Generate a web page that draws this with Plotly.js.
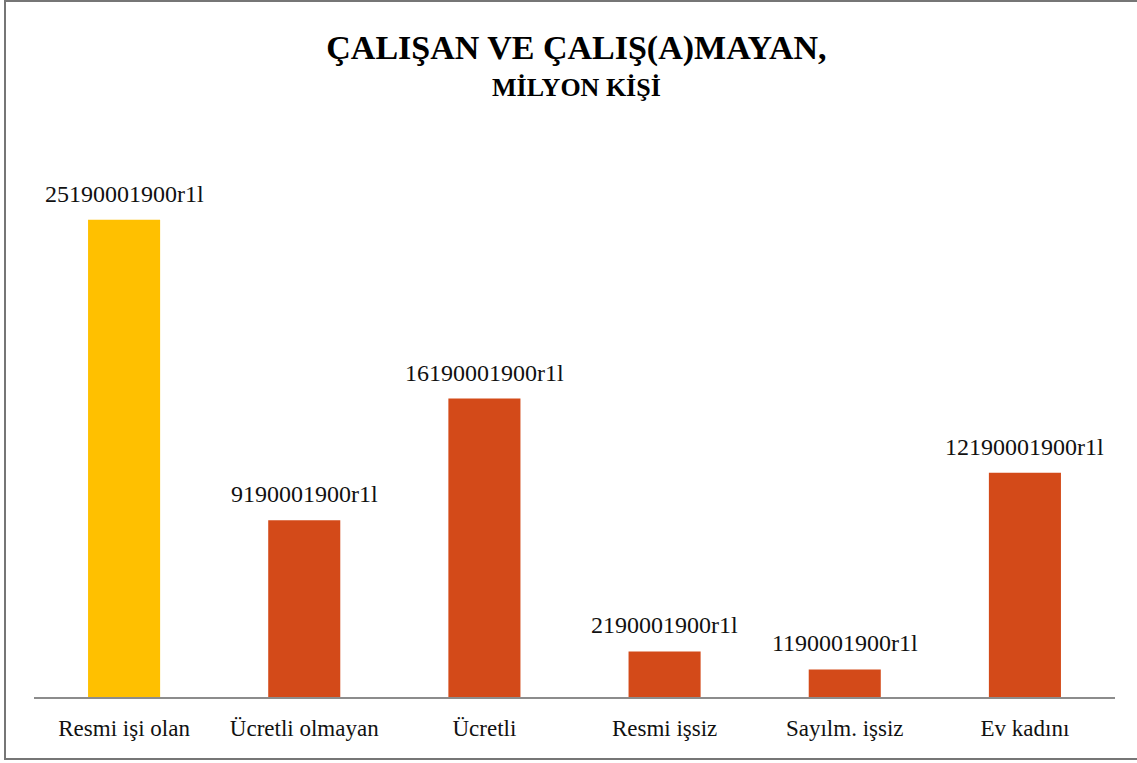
<!DOCTYPE html>
<html>
<head>
<meta charset="utf-8">
<script src="https://cdn.plot.ly/plotly-3.0.1.min.js"></script>
<style>html,body{margin:0;padding:0;background:#fff;}#chart{width:1137px;height:763px;}</style>
</head>
<body>
<div id="chart"></div>
<script>
const categories = ["Resmi işi olan", "Ücretli olmayan", "Ücretli", "Resmi işsiz", "Sayılm. işsiz", "Ev kadını"];
const values = [25.1, 9.3, 15.7, 2.4, 1.45, 11.8];
const valueLabels = ["25190001900r1l", "9190001900r1l", "16190001900r1l", "2190001900r1l", "1190001900r1l", "12190001900r1l"];
const barColors = ["#FFC000", "#D34A19", "#D34A19", "#D34A19", "#D34A19", "#D34A19"];
const titleLine1 = "ÇALIŞAN VE ÇALIŞ(A)MAYAN,";
const titleLine2 = "MİLYON KİŞİ";

const serif = "Liberation Serif, Times New Roman, serif";

const trace = {
  type: "bar",
  x: categories,
  y: values,
  marker: {color: barColors},
  hoverinfo: "none"
};

const annotations = categories.map((c, i) => ({
  x: c, y: values[i], xref: "x", yref: "y",
  text: valueLabels[i], showarrow: false,
  yanchor: "bottom", yshift: 11,
  font: {family: serif, size: 24, color: "#111"}
}));
annotations.push({
  x: 0.502, y: (697 - 88) / 557, xref: "paper", yref: "paper",
  xanchor: "center", yanchor: "middle", showarrow: false,
  text: "<b>" + titleLine2 + "</b>",
  font: {family: serif, size: 26, color: "#000"}
});

const layout = {
  width: 1137, height: 763,
  margin: {l: 34, r: 22, t: 140, b: 66},
  paper_bgcolor: "#fff", plot_bgcolor: "#fff",
  showlegend: false,
  bargap: 0.6,
  title: {
    text: "<b>" + titleLine1 + "</b>",
    font: {family: serif, size: 34, color: "#000"},
    x: 0.507, xanchor: "center",
    y: 1 - 47 / 763, yanchor: "middle", yref: "container"
  },
  xaxis: {
    showgrid: false, zeroline: false,
    showline: true, linecolor: "#8c8c8c", linewidth: 2,
    ticks: "", ticklabelstandoff: 9,
    tickfont: {family: serif, size: 23, color: "#111"}
  },
  yaxis: {
    range: [0, 29.3], showgrid: false, zeroline: false,
    showticklabels: false, showline: false, ticks: ""
  },
  annotations: annotations,
  shapes: [{
    type: "rect", xref: "paper", yref: "paper",
    x0: (5 - 34) / 1081, x1: (1145 - 34) / 1081,
    y0: (697 - 759) / 557, y1: (697 - 1) / 557,
    line: {color: "#767676", width: 2}, fillcolor: "rgba(0,0,0,0)"
  }]
};

Plotly.newPlot("chart", [trace], layout, {displayModeBar: false, staticPlot: true});
</script>
</body>
</html>
